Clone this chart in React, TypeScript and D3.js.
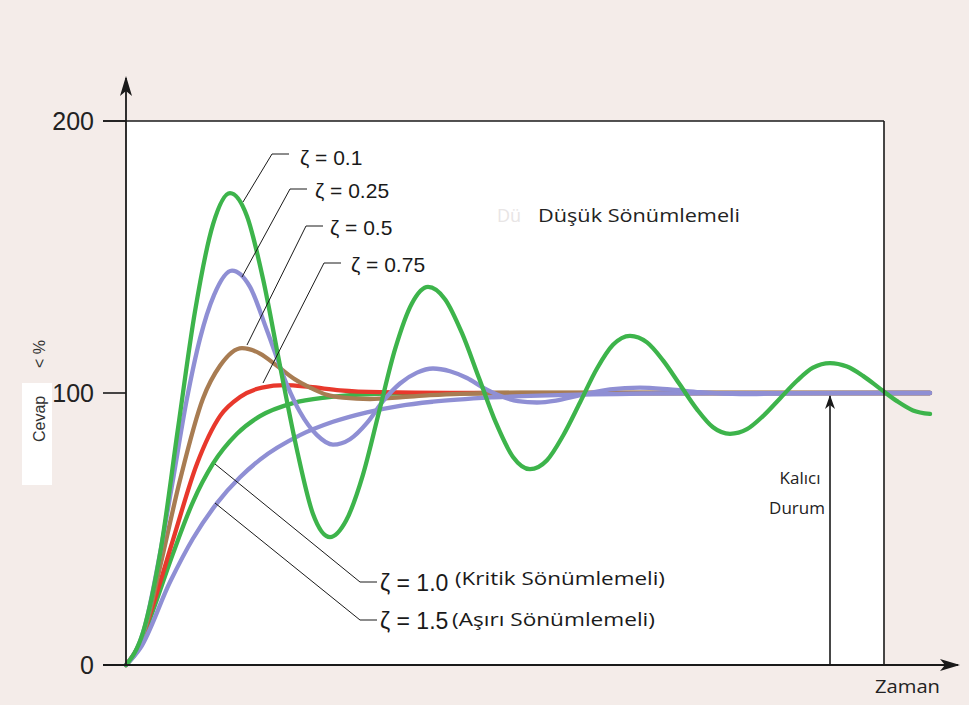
import React from "react";
import * as d3 from "d3";

// ---- data (time in s, response in %) ----
const yTicks = [0, 100, 200];

const tZ01 = [0, 0.17, 0.35, 0.52, 0.69, 0.87, 1.04, 1.21, 1.37, 1.54, 1.71, 1.87, 2.04, 2.2, 2.37, 2.53, 2.69, 2.86, 3.02, 3.19, 3.36, 3.53, 3.7, 3.87, 4.04, 4.21, 4.37, 4.54, 4.71, 4.87, 5.04, 5.21, 5.37, 5.54, 5.71, 5.87, 6.04, 6.21, 6.37, 6.54, 6.71, 6.87, 7.04, 7.21, 7.37, 7.54, 7.71, 7.87, 8.04];
const vZ01 = [0, 12, 43, 87, 130, 162, 173.5, 165, 142, 110, 79, 55.5, 47, 53, 70, 93, 116, 133, 139, 134.5, 122, 105.5, 89, 76.5, 72, 75.3, 84.3, 96.5, 109, 117.7, 121, 118.6, 112, 103, 94, 87.4, 85, 86.7, 91.5, 98, 104.5, 109.3, 111, 109.7, 106.3, 101.6, 97, 93.6, 92.3];

const tZ025 = [0, 0.18, 0.35, 0.46, 0.61, 0.74, 0.88, 1.06, 1.24, 1.41, 1.61, 1.74, 1.91, 2.07, 2.24, 2.41, 2.57, 2.74, 2.91, 3.07, 3.24, 3.41, 3.57, 3.74, 3.92, 4.11, 4.3, 4.54, 4.84, 5.14, 5.44, 5.74, 6.14, 6.64, 7.24, 8.04];
const vZ025 = [0, 13, 43, 66, 98, 120, 136, 145, 139, 123, 103, 93, 84.5, 81, 83, 89, 97, 103.5, 107.5, 109, 108, 105.5, 102, 99, 97, 96.5, 97.2, 99.2, 101.3, 102, 101.3, 100.3, 99.6, 99.9, 100, 100];

const tZ05 = [0, 0.19, 0.34, 0.54, 0.77, 0.94, 1.16, 1.34, 1.51, 1.69, 1.84, 2.01, 2.17, 2.44, 2.74, 3.04, 3.34, 3.94, 8.04];
const vZ05 = [0, 13, 36, 68, 98, 110, 116.5, 114.5, 110, 105, 102, 99.3, 98.3, 97.8, 98.4, 99.2, 99.7, 100, 100];

const tZ075 = [0, 0.14, 0.27, 0.47, 0.71, 0.94, 1.14, 1.36, 1.59, 1.84, 2.14, 2.54, 3.24, 8.04];
const vZ075 = [0, 8, 22, 46, 74, 91.5, 98.5, 102, 102.9, 102.2, 101, 100.3, 100, 100];

const tZ10 = [0, 0.14, 0.27, 0.47, 0.67, 0.87, 1.11, 1.34, 1.67, 2.01, 2.34, 2.67, 3.74, 8.04];
const vZ10 = [0, 7, 20, 41, 60, 74, 85, 91.5, 96.3, 98.4, 99.4, 99.8, 100, 100];

const tZ15 = [0, 0.14, 0.44, 0.67, 0.91, 1.14, 1.34, 1.74, 2.07, 2.41, 2.74, 3.07, 3.67, 4.67, 5.74, 8.04];
const vZ15 = [0, 6, 30.5, 46.5, 59.5, 69, 75.5, 84.5, 89.4, 92.9, 95.3, 96.8, 98.4, 99.5, 99.9, 100];

const seriesNames = ["ζ = 1.0", "ζ = 0.75", "ζ = 0.5", "ζ = 1.5", "ζ = 0.25", "ζ = 0.1"];
const seriesT = [tZ10, tZ075, tZ05, tZ15, tZ025, tZ01];
const seriesV = [vZ10, vZ075, vZ05, vZ15, vZ025, vZ01];
const seriesColors = ["#3db44b", "#e8382c", "#a87c52", "#8f8fd4", "#8f8fd4", "#3db44b"];

const steadyT = 7.04; // "Kalıcı Durum" arrow
const steadyV = 100;

const W = 969;
const H = 705;

export default function App() {
  const x = d3.scaleLinear().domain([0, 7.58]).range([126, 884]);
  const y = d3.scaleLinear().domain([0, 200]).range([665, 121]);
  const line = d3
    .line<[number, number]>()
    .x((d) => x(d[0]))
    .y((d) => y(d[1]))
    .curve(d3.curveMonotoneX);

  const num = "'Liberation Sans Narrow', 'Arial Narrow', 'Liberation Sans', Arial, sans-serif";
  const hum = "'Open Sans', Lato, sans-serif";
  const ink = "#1a1a1a";

  const x0 = x(0);
  const y0 = y(0);
  const yTop = y(200);
  const xRight = x(7.58);

  const upperLabels = [
    { text: "ζ = 0.1", hx: 272, hy: 154, ex: 243, ey: 202, tx: 300, ty: 165 },
    { text: "ζ = 0.25", hx: 290, hy: 189, ex: 242, ey: 277, tx: 315, ty: 198 },
    { text: "ζ = 0.5", hx: 306, hy: 226, ex: 247, ey: 345, tx: 330, ty: 235 },
    { text: "ζ = 0.75", hx: 324, hy: 263, ex: 263, ey: 383, tx: 351, ty: 272 },
  ];

  return (
    <svg
      width={W}
      height={H}
      style={{ position: "absolute", left: 0, top: 0, display: "block" }}
      xmlns="http://www.w3.org/2000/svg"
    >
      <defs>
        <marker id="arrBig" viewBox="0 0 20 12" refX="18" refY="6" markerWidth="20" markerHeight="12" markerUnits="userSpaceOnUse" orient="auto">
          <path d="M0,0 L20,6 L0,12 L5,6 Z" fill={ink} />
        </marker>
        <marker id="arrSmall" viewBox="0 0 14 10" refX="13" refY="5" markerWidth="14" markerHeight="10" markerUnits="userSpaceOnUse" orient="auto">
          <path d="M0,0 L14,5 L0,10 L4,5 Z" fill={ink} />
        </marker>
      </defs>
      <rect x={0} y={0} width={W} height={H} fill="#f4ece9" />
      <rect x={x0} y={yTop} width={xRight - x0} height={y0 - yTop} fill="#ffffff" />
      <rect x={22} y={383} width={30} height={102} fill="#ffffff" />

      {/* curves */}
      {seriesT.map((ts, i) => (
        <path
          key={seriesNames[i]}
          d={line(ts.map((t, j) => [t, seriesV[i][j]]) as [number, number][]) || ""}
          fill="none"
          stroke={seriesColors[i]}
          strokeWidth={4.3}
          strokeLinejoin="round"
          strokeLinecap="round"
        />
      ))}

      {/* frame */}
      <line x1={103} x2={xRight} y1={yTop} y2={yTop} stroke={ink} strokeWidth={1.6} />
      <line x1={xRight} x2={xRight} y1={yTop} y2={y0} stroke={ink} strokeWidth={1.6} />
      {/* axes */}
      <line x1={x0} x2={x0} y1={y0} y2={78} stroke={ink} strokeWidth={1.8} markerEnd="url(#arrBig)" />
      <line x1={103} x2={958} y1={y0} y2={y0} stroke={ink} strokeWidth={1.8} markerEnd="url(#arrBig)" />
      {yTicks.map((t) => (
        <g key={t}>
          <line x1={103} x2={x0} y1={y(t)} y2={y(t)} stroke={ink} strokeWidth={1.6} />
          <text x={94} y={y(t) + 9} textAnchor="end" fontFamily={num} fontSize={25} fill="#222">
            {t}
          </text>
        </g>
      ))}

      {/* steady-state arrow */}
      <line x1={x(steadyT)} x2={x(steadyT)} y1={y0} y2={y(steadyV) + 3} stroke={ink} strokeWidth={1.6} markerEnd="url(#arrSmall)" />
      <text x={800} y={484} textAnchor="middle" fontFamily={hum} fontSize={17} fill="#222">Kalıcı</text>
      <text x={797} y={514} textAnchor="middle" fontFamily={hum} fontSize={17} fill="#222">Durum</text>

      {/* upper labels */}
      {upperLabels.map((l) => (
        <g key={l.text}>
          <polyline points={`${l.hx + 17},${l.hy} ${l.hx},${l.hy} ${l.ex},${l.ey}`} fill="none" stroke={ink} strokeWidth={1} />
          <text x={l.tx} y={l.ty} fontFamily={num} fontSize={21} fill="#1a1a1a">{l.text}</text>
        </g>
      ))}

      {/* lower labels */}
      <polyline points="215,464 360,582 377,582" fill="none" stroke={ink} strokeWidth={1} />
      <polyline points="215,503 360,620 377,620" fill="none" stroke={ink} strokeWidth={1} />
      <text x={380} y={591} fontFamily={num} fontSize={23} fill="#1a1a1a">ζ = 1.0</text>
      <text x={455} y={585} fontFamily={hum} fontSize={18} textLength={210} lengthAdjust="spacingAndGlyphs" fill="#1a1a1a">(Kritik Sönümlemeli)</text>
      <text x={380} y={629} fontFamily={num} fontSize={23} fill="#1a1a1a">ζ = 1.5</text>
      <text x={452} y={626} fontFamily={hum} fontSize={18} textLength={203} lengthAdjust="spacingAndGlyphs" fill="#1a1a1a">(Aşırı Sönümlemeli)</text>

      <text x={497} y={222} fontFamily={hum} fontSize={18} fill="#e8e5e5">Dü</text>
      <text x={538} y={222} fontFamily={hum} fontSize={19} textLength={202} lengthAdjust="spacingAndGlyphs" fill="#222">Düşük Sönümlemeli</text>

      <text x={875} y={693} fontFamily={hum} fontSize={18} textLength={65} lengthAdjust="spacingAndGlyphs" fill="#222">Zaman</text>

      {/* y axis title */}
      <text transform="translate(45,442) rotate(-90)" fontFamily="'Liberation Sans', Arial, sans-serif" fontSize={16} fill="#333">Cevap</text>
      <text transform="translate(45,368) rotate(-90)" fontFamily="'Liberation Sans', Arial, sans-serif" fontSize={16} fill="#333">{"< %"}</text>
    </svg>
  );
}
